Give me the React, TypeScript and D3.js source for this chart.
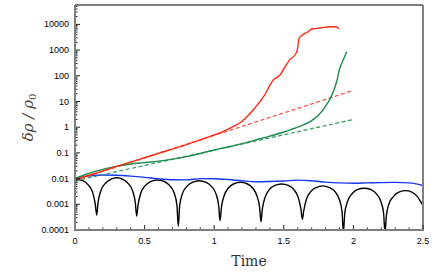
import * as d3 from 'd3'

// values: [time, delta rho / rho0]
const blackLine: [number, number][] = [
  [0, 0.0095], [0.056, 0.0083], [0.096, 0.0056], [0.126, 0.003], [0.146, 0.001], [0.156, 0.00038],
  [0.166, 0.0012], [0.186, 0.0034], [0.216, 0.0064], [0.256, 0.0094], [0.3, 0.0108], [0.343, 0.0094], [0.383, 0.0064], [0.413, 0.0034], [0.433, 0.0012], [0.443, 0.00035],
  [0.453, 0.00095], [0.473, 0.0028], [0.503, 0.0052], [0.543, 0.0077], [0.592, 0.0088], [0.642, 0.0077], [0.682, 0.0052], [0.712, 0.0028], [0.732, 0.00095], [0.742, 0.00014],
  [0.752, 0.0009], [0.772, 0.0026], [0.802, 0.0049], [0.842, 0.0072], [0.892, 0.0083], [0.942, 0.0072], [0.982, 0.0049], [1.012, 0.0026], [1.032, 0.0009], [1.042, 0.00023],
  [1.052, 0.00077], [1.072, 0.0022], [1.102, 0.0043], [1.142, 0.0063], [1.189, 0.0072], [1.236, 0.0063], [1.276, 0.0043], [1.306, 0.0022], [1.326, 0.00077], [1.336, 0.00021],
  [1.346, 0.00066], [1.366, 0.0019], [1.396, 0.0037], [1.436, 0.0054], [1.484, 0.0062], [1.533, 0.0054], [1.573, 0.0037], [1.603, 0.0019], [1.623, 0.00066], [1.633, 0.00026],
  [1.643, 0.00055], [1.663, 0.0016], [1.693, 0.0031], [1.733, 0.0045], [1.78, 0.0052], [1.828, 0.0045], [1.868, 0.0031], [1.898, 0.0016], [1.918, 0.00055], [1.928, 0.00008],
  [1.938, 0.00045], [1.958, 0.0013], [1.988, 0.0025], [2.028, 0.0037], [2.078, 0.0042], [2.127, 0.0037], [2.167, 0.0025], [2.197, 0.0013], [2.217, 0.00045], [2.227, 0.00008],
  [2.237, 0.00036], [2.257, 0.0011], [2.287, 0.002], [2.327, 0.003], [2.375, 0.0034], [2.42, 0.003], [2.46, 0.002], [2.49, 0.0011], [2.5, 0.00088],
]

const blueLine: [number, number][] = [
  [0, 0.0102], [0.1, 0.0125], [0.2, 0.0138], [0.3, 0.0135], [0.4, 0.0125], [0.5, 0.0112],
  [0.6, 0.0098], [0.7, 0.009], [0.8, 0.0089], [0.9, 0.01], [1.0, 0.0099], [1.1, 0.0092],
  [1.2, 0.0082], [1.3, 0.0075], [1.4, 0.0077], [1.5, 0.0081], [1.6, 0.0087], [1.7, 0.0082],
  [1.8, 0.0073], [1.9, 0.0068], [2.0, 0.0066], [2.1, 0.0068], [2.2, 0.007], [2.3, 0.0071],
  [2.4, 0.0068], [2.5, 0.0054],
]

const redLine: [number, number][] = [
  [0, 0.009], [0.1, 0.0135], [0.2, 0.02], [0.3, 0.03], [0.4, 0.044], [0.5, 0.065],
  [0.6, 0.096], [0.7, 0.14], [0.8, 0.21], [0.9, 0.32], [1.0, 0.5], [1.1, 0.85],
  [1.2, 1.7], [1.28, 4.7], [1.353, 15], [1.425, 69], [1.473, 107], [1.509, 225],
  [1.545, 435], [1.58, 645], [1.597, 1000], [1.61, 2900], [1.64, 4100], [1.676, 5200],
  [1.7, 6600], [1.772, 7400], [1.832, 8100], [1.88, 8100], [1.894, 6600],
]

const greenLine: [number, number][] = [
  [0, 0.0102], [0.1, 0.016], [0.2, 0.023], [0.3, 0.03], [0.4, 0.037], [0.5, 0.042],
  [0.6, 0.048], [0.7, 0.057], [0.8, 0.072], [0.9, 0.095], [1.0, 0.13], [1.1, 0.17],
  [1.2, 0.23], [1.3, 0.32], [1.4, 0.45], [1.5, 0.65], [1.6, 1.0], [1.65, 1.3],
  [1.7, 1.8], [1.75, 3.0], [1.8, 6.5], [1.85, 20], [1.88, 60], [1.9, 180],
  [1.93, 450], [1.952, 870],
]

const redFit: [number, number][] = [[0, 0.0085], [2.0, 27]]
const greenFit: [number, number][] = [[0, 0.0082], [2.0, 2.0]]

const xTicks = [0, 0.5, 1, 1.5, 2, 2.5]
const xTickLabels = ['0', '0.5', '1', '1.5', '2', '2.5']
const yTicks = [0.0001, 0.001, 0.01, 0.1, 1, 10, 100, 1000, 10000]
const yTickLabels = ['0.0001', '0.001', '0.01', '0.1', '1', '10', '100', '1000', '10000']

const W = 436
const H = 279
const left = 75
const right = 423
const top = 5
const bottom = 230

export default function App() {
  const x = d3.scaleLinear().domain([0, 2.5]).range([left, right])
  const y = d3.scaleLog().domain([0.0001, Math.pow(10, 4.755)]).range([bottom, top])
  const line = d3.line<[number, number]>()
    .x((d) => x(d[0]))
    .y((d) => y(d[1]))
    .curve(d3.curveMonotoneX)

  const xMinor = d3.range(0, 2.5001, 0.1).filter((v) => !xTicks.some((t) => Math.abs(t - v) < 1e-6))
  const yMinor: number[] = []
  for (let e = -4; e <= 4; e++) {
    for (let m = 2; m <= 9; m++) {
      const v = m * Math.pow(10, e)
      if (v < y.domain()[1]) yMinor.push(v)
    }
  }

  const axisColor = '#808080'
  const tickFont = 'Liberation Sans, Arial, sans-serif'

  return (
    <div style={{ position: 'fixed', left: 0, top: 0 }}>
      <svg width={W} height={H} style={{ display: 'block', background: '#fff' }}>
        <defs>
          <clipPath id="plot">
            <rect x={left} y={top} width={right - left} height={bottom - top} />
          </clipPath>
        </defs>

        <g clipPath="url(#plot)" fill="none" strokeLinejoin="round">
          <path d={line(blackLine) ?? ''} stroke="#000" strokeWidth={1.4} />
          <path d={line(blueLine) ?? ''} stroke="#1637f5" strokeWidth={1.4} />
          <path d={line(redFit) ?? ''} stroke="#ff4a36" strokeWidth={1.2} strokeDasharray="4,2.5" />
          <path d={line(greenFit) ?? ''} stroke="#2f9a60" strokeWidth={1.2} strokeDasharray="4,2.5" />
          <path d={line(greenLine) ?? ''} stroke="#1b8a4c" strokeWidth={1.4} />
          <path d={line(redLine) ?? ''} stroke="#ff2a14" strokeWidth={1.4} />
        </g>

        {/* frame */}
        <line x1={left} x2={right} y1={top} y2={top} stroke="#000" strokeWidth={1} />
        <line x1={right} x2={right} y1={top} y2={bottom} stroke={axisColor} strokeWidth={2} />

        {/* ticks */}
        <g stroke="#222" strokeWidth={1}>
          {xTicks.map((t) => (
            <line key={'xt' + t} x1={x(t)} x2={x(t)} y1={bottom} y2={bottom - 5} />
          ))}
          {xMinor.map((t) => (
            <line key={'xm' + t} x1={x(t)} x2={x(t)} y1={bottom} y2={bottom - 2.5} />
          ))}
          {yTicks.map((t) => (
            <line key={'yt' + t} x1={left} x2={left + 5} y1={y(t)} y2={y(t)} />
          ))}
          {yMinor.map((t) => (
            <line key={'ym' + t} x1={left} x2={left + 2.5} y1={y(t)} y2={y(t)} />
          ))}
        </g>

        <line x1={left} x2={left} y1={top} y2={bottom + 1} stroke={axisColor} strokeWidth={2} />
        <line x1={left - 1} x2={right + 1} y1={bottom} y2={bottom} stroke={axisColor} strokeWidth={2} />

        {/* tick labels */}
        <g fontFamily={tickFont} fontSize={9} fill="#000">
          {xTicks.map((t, i) => (
            <text key={'xl' + t} x={x(t)} y={bottom + 14} textAnchor="middle">{xTickLabels[i]}</text>
          ))}
          {yTicks.map((t, i) => (
            <text key={'yl' + t} x={left - 6} y={y(t) + 3} textAnchor="end">{yTickLabels[i]}</text>
          ))}
        </g>

        <text x={(left + right) / 2} y={266} textAnchor="middle" fontFamily="DejaVu Serif, Liberation Serif, serif" fontSize={14} fill="#333">Time</text>
        <text
          transform={`translate(33, ${(top + bottom) / 2}) rotate(-90)`}
          textAnchor="middle"
          fontFamily="DejaVu Serif, Liberation Serif, serif"
          fontStyle="italic"
          fontSize={15}
          fill="#4a3f35"
        >
          δρ / ρ<tspan fontSize={10} dy={3} fontStyle="normal">0</tspan>
        </text>
      </svg>
    </div>
  )
}
